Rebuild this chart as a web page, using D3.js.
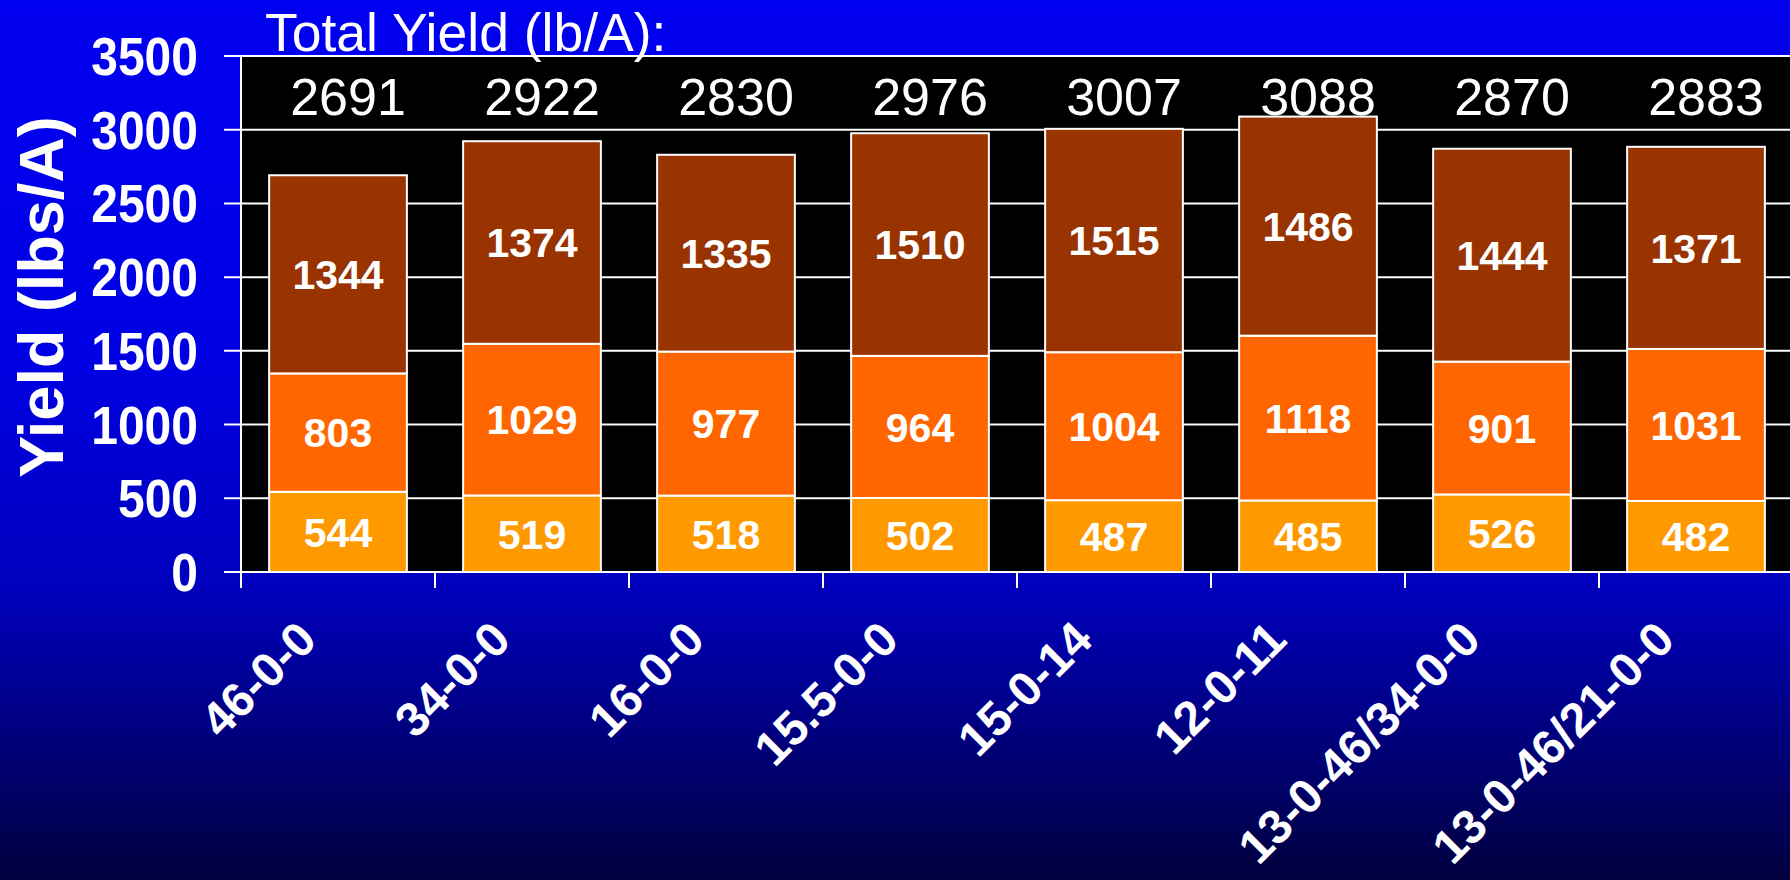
<!DOCTYPE html>
<html>
<head>
<meta charset="utf-8">
<script src="https://cdn.jsdelivr.net/npm/d3@7"></script>
<style>
  html, body { margin: 0; padding: 0; background: #000060; }
  svg { display: block; font-family: Arial, "Liberation Sans", sans-serif; }
</style>
</head>
<body>
<div id="chart-area"></div>
<script>
// data
var categories = ["46-0-0", "34-0-0", "16-0-0", "15.5-0-0", "15-0-14", "12-0-11", "13-0-46/34-0-0", "13-0-46/21-0-0"];
var bottomVals = [544, 519, 518, 502, 487, 485, 526, 482];
var middleVals = [803, 1029, 977, 964, 1004, 1118, 901, 1031];
var topVals = [1344, 1374, 1335, 1510, 1515, 1486, 1444, 1371];
var totals = [2691, 2922, 2830, 2976, 3007, 3088, 2870, 2883];
var yTicks = [0, 500, 1000, 1500, 2000, 2500, 3000, 3500];
var seriesColors = ["#FF9900", "#FF6600", "#993300"];

var W = 1790, H = 880;
// plot box (window.top is reserved, so plot* names)
var plotLeft = 241, plotRight = 1793, plotTop = 56, plotBottom = 572;

var svg = d3.select("#chart-area").append("svg")
    .attr("width", W)
    .attr("height", H);

var grad = svg.append("defs").append("linearGradient")
    .attr("id", "bg")
    .attr("x1", 0).attr("y1", 0).attr("x2", 0).attr("y2", 1);
grad.append("stop").attr("offset", "0").attr("stop-color", "#0000F0");
grad.append("stop").attr("offset", "0.40").attr("stop-color", "#0000E4");
grad.append("stop").attr("offset", "0.67").attr("stop-color", "#0000BC");
grad.append("stop").attr("offset", "1").attr("stop-color", "#00003E");

svg.append("rect")
    .attr("width", W).attr("height", H)
    .attr("fill", "url(#bg)");

var x = d3.scaleBand()
    .domain(categories)
    .range([plotLeft, plotRight])
    .paddingInner(0.29)
    .paddingOuter(0.145);

var y = d3.scaleLinear()
    .domain([0, 3500])
    .range([plotBottom, plotTop]);

// plot area
svg.append("rect")
    .attr("x", plotLeft).attr("y", plotTop)
    .attr("width", W - plotLeft).attr("height", plotBottom - plotTop)
    .attr("fill", "#000");

// gridlines + y ticks
svg.selectAll(".grid").data(yTicks).enter()
    .append("line")
        .attr("x1", plotLeft - 17).attr("x2", W)
        .attr("y1", (d) => y(d)).attr("y2", (d) => y(d))
        .attr("stroke", "#fff").attr("stroke-width", 2);

svg.append("line")
    .attr("x1", plotLeft).attr("x2", plotLeft)
    .attr("y1", plotTop).attr("y2", plotBottom)
    .attr("stroke", "#fff").attr("stroke-width", 2);

svg.selectAll(".ylab").data(yTicks).enter()
    .append("text")
        .attr("transform", (d) => "translate(198," + y(d) + ") scale(1,1.1)")
        .attr("dy", "0.36em")
        .attr("text-anchor", "end")
        .attr("fill", "#fff")
        .attr("font-weight", "bold")
        .attr("font-size", 48)
        .text((d) => d);

// x ticks at band edges
var step = x.step();
var edges = d3.range(categories.length + 1).map((i) => plotLeft + i * step);
svg.selectAll(".xtick").data(edges).enter()
    .append("line")
        .attr("x1", (d) => d).attr("x2", (d) => d)
        .attr("y1", plotBottom).attr("y2", plotBottom + 16)
        .attr("stroke", "#fff").attr("stroke-width", 2);

// stacked bars
var rows = categories.map((c, i) => ({cat: c, b: bottomVals[i], m: middleVals[i], t: topVals[i]}));
var stack = d3.stack().keys(["b", "m", "t"])(rows);

stack.forEach((layer, li) => {
    var g = svg.append("g");
    g.selectAll("rect").data(layer).enter()
        .append("rect")
            .attr("x", (d) => x(d.data.cat))
            .attr("width", x.bandwidth())
            .attr("y", (d) => y(d[1]))
            .attr("height", (d) => y(d[0]) - y(d[1]))
            .attr("fill", seriesColors[li])
            .attr("stroke", "#fff")
            .attr("stroke-width", 2);
    g.selectAll("text").data(layer).enter()
        .append("text")
            .attr("x", (d) => x(d.data.cat) + x.bandwidth() / 2)
            .attr("y", (d) => (y(d[0]) + y(d[1])) / 2)
            .attr("dy", "0.36em")
            .attr("text-anchor", "middle")
            .attr("fill", "#fff")
            .attr("font-weight", "bold")
            .attr("font-size", 41)
            .text((d) => d[1] - d[0]);
});

// totals, sitting a little right of the bar centres like the slide
svg.selectAll(".tot").data(totals).enter()
    .append("text")
        .attr("x", (d, i) => x(categories[i]) + x.bandwidth() / 2 + 10)
        .attr("y", 115)
        .attr("text-anchor", "middle")
        .attr("fill", "#fff")
        .attr("font-size", 52)
        .text((d) => d);

svg.append("text")
    .attr("x", 265).attr("y", 51)
    .attr("fill", "#fff")
    .attr("font-size", 53.5)
    .text("Total Yield (lb/A):");

// x labels
svg.selectAll(".xlab").data(categories).enter()
    .append("text")
        .attr("transform", (d) => "translate(" + (x(d) + x.bandwidth() / 2 - 19) + ",642) rotate(-45)")
        .attr("text-anchor", "end")
        .attr("fill", "#fff")
        .attr("font-weight", "bold")
        .attr("font-size", 48)
        .text((d) => d);

// y title
svg.append("text")
    .attr("transform", "translate(63,297) rotate(-90)")
    .attr("text-anchor", "middle")
    .attr("fill", "#fff")
    .attr("font-weight", "bold")
    .attr("font-size", 63)
    .text("Yield (lbs/A)");
</script>
</body>
</html>
